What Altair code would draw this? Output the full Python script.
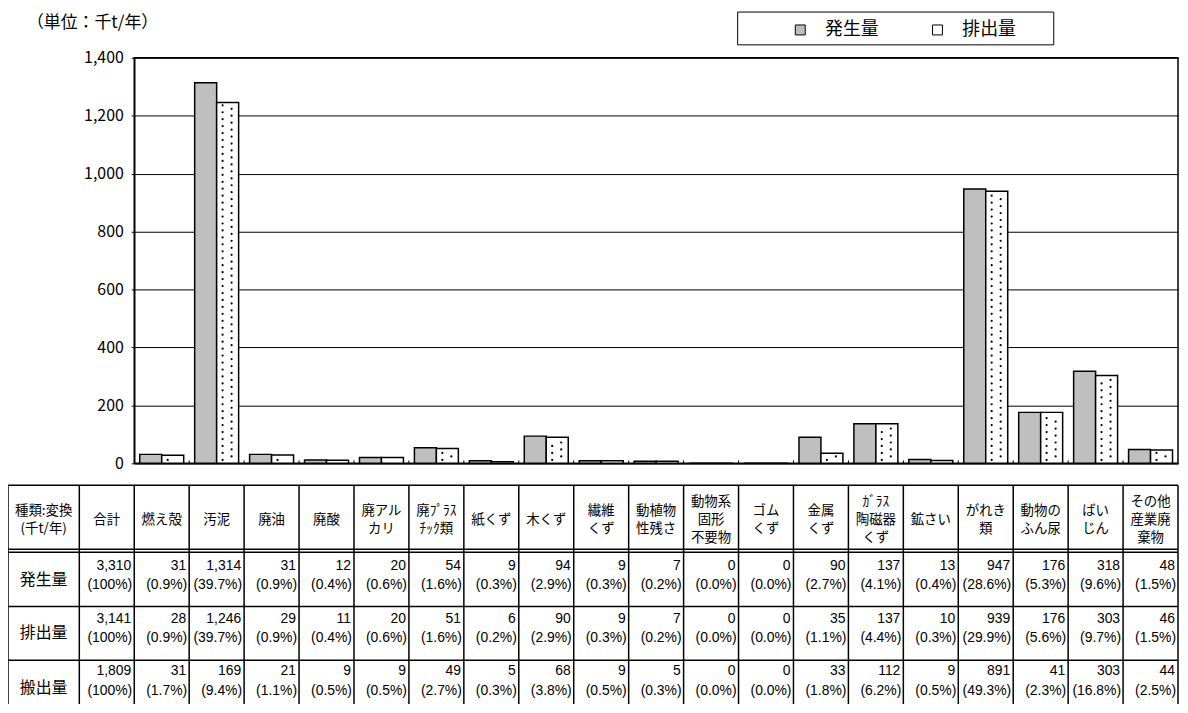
import altair as alt
import pandas as pd

# ---------------- data ----------------
categories = ["燃え殻", "汚泥", "廃油", "廃酸", "廃アルカリ", "廃プラスチック類", "紙くず", "木くず",
              "繊維くず", "動植物性残さ", "動物系固形不要物", "ゴムくず", "金属くず", "ガラス陶磁器くず",
              "鉱さい", "がれき類", "動物のふん尿", "ばいじん", "その他産業廃棄物"]
column_headers = ["合計", "燃え殻", "汚泥", "廃油", "廃酸", "廃アル\nカリ", "廃ﾌﾟﾗｽ\nﾁｯｸ類", "紙くず", "木くず",
                  "繊維\nくず", "動植物\n性残さ", "動物系\n固形\n不要物", "ゴム\nくず", "金属\nくず",
                  "ｶﾞﾗｽ\n陶磁器\nくず", "鉱さい", "がれき\n類", "動物の\nふん尿", "ばい\nじん", "その他\n産業廃\n棄物"]
corner_header = "種類:変換\n(千t/年)"
row_names = ["発生量", "排出量", "搬出量"]
series = ["発生量", "排出量"]

# first entry = 合計
gen_values = [3310, 31, 1314, 31, 12, 20, 54, 9, 94, 9, 7, 0, 0, 90, 137, 13, 947, 176, 318, 48]
dis_values = [3141, 28, 1246, 29, 11, 20, 51, 6, 90, 9, 7, 0, 0, 35, 137, 10, 939, 176, 303, 46]
out_values = [1809, 31, 169, 21, 9, 9, 49, 5, 68, 9, 5, 0, 0, 33, 112, 9, 891, 41, 303, 44]
gen_pct = [100, 0.9, 39.7, 0.9, 0.4, 0.6, 1.6, 0.3, 2.9, 0.3, 0.2, 0.0, 0.0, 2.7, 4.1, 0.4, 28.6, 5.3, 9.6, 1.5]
dis_pct = [100, 0.9, 39.7, 0.9, 0.4, 0.6, 1.6, 0.2, 2.9, 0.3, 0.2, 0.0, 0.0, 1.1, 4.4, 0.3, 29.9, 5.6, 9.7, 1.5]
out_pct = [100, 1.7, 9.4, 1.1, 0.5, 0.5, 2.7, 0.3, 3.8, 0.5, 0.3, 0.0, 0.0, 1.8, 6.2, 0.5, 49.3, 2.3, 16.8, 2.5]

y_ticks = [0, 200, 400, 600, 800, 1000, 1200, 1400]
unit_title = "（単位：千t/年）"

# ---------------- layout constants ----------------
W, H = 1050, 408
NCOL = len(categories)
UNIT = W / NCOL
TABLE_LEFT = -127 / UNIT          # left border of table (column units)
CORNER_CX = (TABLE_LEFT - 1) / 2  # centre of header column
JP = "Noto Sans CJK JP"
NUM = "Liberation Sans Narrow, Liberation Sans, sans-serif"

# ---------------- bars ----------------
bars_df = pd.DataFrame({
    "category": categories * 2,
    "series": [series[0]] * NCOL + [series[1]] * NCOL,
    "value": gen_values[1:] + dis_values[1:],
})
dis_df = pd.DataFrame({"category": categories, "value": dis_values[1:]})

xband = alt.Scale(domain=categories, paddingInner=0.2, paddingOuter=0.1)
yscale = alt.Scale(domain=[0, 1400], nice=False, zero=True)
x_axis = alt.Axis(labels=False, ticks=False, title=None, domainColor="black", domainWidth=1.5)
y_axis = alt.Axis(values=y_ticks, labelExpr="format(datum.value, ',')", title=None, grid=True,
                  gridColor="black", gridWidth=1, tickColor="black", tickSize=3,
                  domainColor="black", domainWidth=1.5,
                  labelPadding=8, labelFont=JP, labelFontSize=16, labelColor="black")

bars = alt.Chart(bars_df).mark_bar(stroke="black", strokeWidth=1.5).encode(
    x=alt.X("category:N", sort=categories, scale=xband, axis=x_axis),
    xOffset=alt.XOffset("series:N", sort=series, scale=alt.Scale(domain=series, paddingInner=0, paddingOuter=0)),
    y=alt.Y("value:Q", scale=yscale, axis=y_axis),
    fill=alt.Fill("series:N", sort=series,
                  scale=alt.Scale(domain=series, range=["#bfbfbf", "#ffffff"]),
                  legend=alt.Legend(orient="none", legendX=661, legendY=-37, direction="horizontal",
                                    title=None, symbolType="square", symbolSize=100,
                                    symbolStrokeColor="black", symbolStrokeWidth=1,
                                    labelFont=JP, labelFontSize=18, labelColor="black",
                                    labelOffset=16, columnPadding=50, padding=0)),
)


def dot_layer(band_pos, start):
    return alt.Chart(dis_df).transform_calculate(
        ys=f"sequence({start}, datum.value - 8, 24)"
    ).transform_flatten(["ys"]).mark_point(
        filled=True, color="black", size=5, opacity=1, shape="circle"
    ).encode(
        x=alt.X("category:N", sort=categories, scale=xband, bandPosition=band_pos, axis=x_axis),
        y=alt.Y("ys:Q", scale=yscale, axis=y_axis),
    )


bar_group = alt.layer(bars, dot_layer(0.635, 12), dot_layer(0.84, 24))

# ---------------- table ----------------
xq = alt.Scale(domain=[0, NCOL], nice=False, zero=False)

# column boundaries
vb_df = pd.DataFrame({"b": [TABLE_LEFT, -1] + list(range(0, NCOL + 1))})
vrules = alt.Chart(vb_df).mark_rule(color="black", strokeWidth=1.5).encode(
    x=alt.X("b:Q", scale=xq, axis=None), y=alt.value(430), y2=alt.value(665))

# small ticks at category boundaries on the bar axis
tick_df = pd.DataFrame({"b": list(range(1, NCOL))})
axticks = alt.Chart(tick_df).mark_rule(color="black", strokeWidth=1).encode(
    x=alt.X("b:Q", scale=xq, axis=None), y=alt.value(H - 3), y2=alt.value(H))

hline_df = pd.DataFrame({"x0": [TABLE_LEFT], "x1": [NCOL]})
hrules = []
for yp in [430, 494.5, 497.5, 552, 606, 660]:
    hrules.append(alt.Chart(hline_df).mark_rule(color="black", strokeWidth=1.5).encode(
        x=alt.X("x0:Q", scale=xq, axis=None), x2="x1:Q", y=alt.value(yp)))

head_labels = [corner_header] + column_headers
head_df = pd.DataFrame({
    "label": head_labels,
    "cx": [CORNER_CX, -0.5] + [i + 0.5 for i in range(NCOL)],
    "lines": [s.count("\n") + 1 for s in head_labels],
})
LH = 18.5
header_layers = []
for n in (1, 2, 3):
    header_layers.append(
        alt.Chart(head_df).transform_filter(f"datum.lines == {n}").mark_text(
            font=JP, fontSize=13.5, lineBreak="\n", lineHeight=LH, baseline="middle",
            align="center", color="black"
        ).encode(x=alt.X("cx:Q", scale=xq, axis=None), y=alt.value(465 - (n - 1) * LH / 2),
                 text="label:N"))

row_df = pd.DataFrame({"name": row_names, "cx": [CORNER_CX] * 3})
row_layers = []
row_label_y = [525, 579, 634]
num_y = [511, 565, 617]
pct_y = [530, 584, 637]
for r, (vals, pcts) in enumerate([(gen_values, gen_pct), (dis_values, dis_pct), (out_values, out_pct)]):
    lab = alt.Chart(row_df.iloc[[r]]).mark_text(
        font=JP, fontSize=16, baseline="middle", align="center", color="black"
    ).encode(x=alt.X("cx:Q", scale=xq, axis=None), y=alt.value(row_label_y[r]), text="name:N")
    df = pd.DataFrame({
        "xr": [0] + [i + 1 for i in range(NCOL)],
        "num": [f"{v:,}" for v in vals],
        "pct": [f"({p}%)" if i == 0 else f"({p:.1f}%)" for i, p in enumerate(pcts)],
    })
    nums = alt.Chart(df).mark_text(
        font=NUM, fontSize=14, baseline="middle", align="right", dx=-3, color="black"
    ).encode(x=alt.X("xr:Q", scale=xq, axis=None), y=alt.value(num_y[r]), text="num:N")
    pcs = alt.Chart(df).mark_text(
        font=NUM, fontSize=14, baseline="middle", align="right", dx=-2, color="black"
    ).encode(x=alt.X("xr:Q", scale=xq, axis=None), y=alt.value(pct_y[r]), text="pct:N")
    row_layers += [lab, nums, pcs]

table_group = alt.layer(vrules, axticks, *hrules, *header_layers, *row_layers)

# ---------------- decorations ----------------
one = pd.DataFrame({"t": [unit_title]})
title_txt = alt.Chart(one).mark_text(
    font=JP, fontSize=17, align="left", baseline="middle", color="black"
).encode(x=alt.value(-108), y=alt.value(-35), text="t:N")
legend_box = alt.Chart(one).mark_rect(fillOpacity=0, stroke="black", strokeWidth=1).encode(
    x=alt.value(607), x2=alt.value(925), y=alt.value(-46), y2=alt.value(-13))

chart = alt.layer(bar_group, table_group, title_txt, legend_box).resolve_scale(
    x="independent"
).properties(
    width=W, height=H,
    autosize=alt.AutoSizeParams(type="none"),
    padding={"left": 127, "top": 48, "right": 2, "bottom": 240},
    background="white",
).configure_view(stroke="black", strokeWidth=1.5)

chart.save("out.html", embed_options={"renderer": "svg", "actions": False})
